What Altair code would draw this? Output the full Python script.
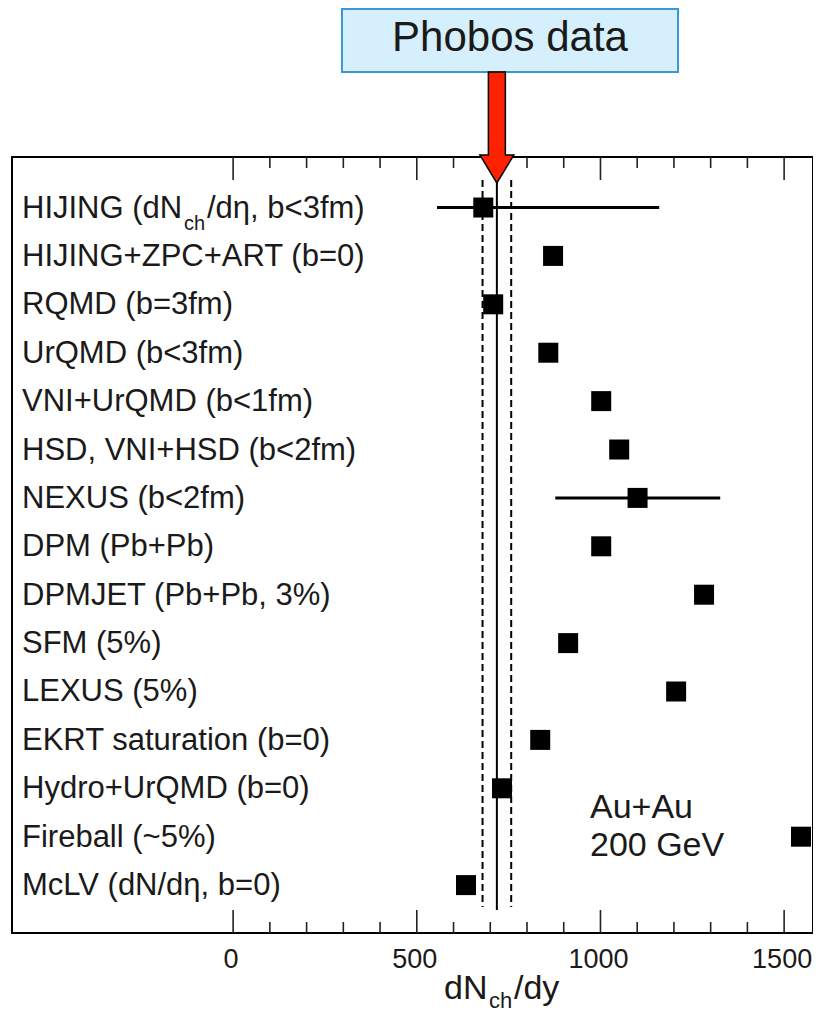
import altair as alt
import pandas as pd

# ---------------- data ----------------
models = [
    "HIJING (dNch/dη, b<3fm)",
    "HIJING+ZPC+ART (b=0)",
    "RQMD (b=3fm)",
    "UrQMD (b<3fm)",
    "VNI+UrQMD (b<1fm)",
    "HSD, VNI+HSD (b<2fm)",
    "NEXUS (b<2fm)",
    "DPM (Pb+Pb)",
    "DPMJET (Pb+Pb, 3%)",
    "SFM (5%)",
    "LEXUS (5%)",
    "EKRT saturation (b=0)",
    "Hydro+UrQMD (b=0)",
    "Fireball (~5%)",
    "McLV (dN/dη, b=0)",
]
values = [681, 871, 708, 858, 1002, 1051, 1101, 1002, 1282, 912, 1206, 836, 732, 1546, 634]
rows = list(range(len(models)))

err_rows = [0, 6]
err_lo = [555, 877]
err_hi = [1160, 1326]

phobos_value = [718]
phobos_band = [679, 757]

hijing_parts = ["HIJING (dN", "ch", "/dη, b<3fm)"]

tick_major = [0, 500, 1000, 1500]
tick_minor = [100, 200, 300, 400, 600, 700, 800, 900, 1100, 1200, 1300, 1400]

x_title_parts = ["dN", "ch", "/dy"]
energy_lines = ["Au+Au", "200 GeV"]
banner = ["Phobos data"]

# ---------------- frames ----------------
df = pd.DataFrame({"model": models, "value": values, "row": rows})
err_df = pd.DataFrame({"row": err_rows, "lo": err_lo, "hi": err_hi})
ph_df = pd.DataFrame({"value": phobos_value})
band_df = pd.DataFrame({"value": phobos_band})
lab_df = df[df.row > 0]
maj_df = pd.DataFrame({"v": tick_major})
min_df = pd.DataFrame({"v": tick_minor})
one = pd.DataFrame({"row": [0]})

W, H = 801, 776
FONT = "Liberation Sans"
TXT = "#1a1a1a"

xs = alt.Scale(domain=[-602, 1578.6], nice=False, zero=False)
ys = alt.Scale(domain=[-1.044, 14.99], reverse=True, nice=False, zero=False)

X = lambda f: alt.X(f, type="quantitative", scale=xs, axis=None)
Y = lambda f: alt.Y(f, type="quantitative", scale=ys, axis=None)


def txt(s, x, y, size, dy=0, align="left"):
    return alt.Chart(one).mark_text(
        align=align, baseline="alphabetic", font=FONT, fontSize=size,
        color=TXT, dy=dy, text=s).encode(x=alt.value(x), y=y)


# phobos lines
solid = alt.Chart(ph_df).mark_rule(color="black", strokeWidth=2).encode(
    x=X("value"), y=alt.value(23), y2=alt.value(753))
dashed = alt.Chart(band_df).mark_rule(color="black", strokeWidth=2, strokeDash=[7, 4]).encode(
    x=X("value"), y=alt.value(23), y2=alt.value(750))

# error bars
ebars = alt.Chart(err_df).mark_rule(color="black", strokeWidth=3).encode(
    x=X("lo"), x2="hi", y=Y("row"))

# squares
pts = alt.Chart(df).mark_square(size=400, color="black", opacity=1, filled=True).encode(
    x=X("value"), y=Y("row"))

# labels
labels = alt.Chart(lab_df).mark_text(
    align="left", baseline="alphabetic", font=FONT, fontSize=31, color=TXT, dy=10
).encode(x=alt.value(10), y=Y("row"), text="model:N")

h1 = txt(hijing_parts[0], 10, Y("row"), 31, dy=10)
h2 = txt(hijing_parts[1], 172, Y("row"), 20, dy=22)
h3 = txt(hijing_parts[2], 195, Y("row"), 31, dy=10)

# ticks (inward, bottom and top)
tmb = alt.Chart(maj_df).mark_rule(color="#222", strokeWidth=1.6).encode(
    x=X("v"), y=alt.value(H), y2=alt.value(H - 23))
tnb = alt.Chart(min_df).mark_rule(color="#222", strokeWidth=1.6).encode(
    x=X("v"), y=alt.value(H), y2=alt.value(H - 11))
tmt = alt.Chart(maj_df).mark_rule(color="#222", strokeWidth=1.6).encode(
    x=X("v"), y=alt.value(0), y2=alt.value(23))
tnt = alt.Chart(min_df).mark_rule(color="#222", strokeWidth=1.6).encode(
    x=X("v"), y=alt.value(0), y2=alt.value(11))

ticklab = alt.Chart(maj_df).mark_text(align="center", baseline="alphabetic", font=FONT,
                                      fontSize=27, color=TXT, dx=-2).encode(
    x=X("v"), y=alt.value(H + 35), text="v:Q")

# x title with subscript
xt1 = txt(x_title_parts[0], 432, alt.value(H + 66), 34)
xt2 = txt(x_title_parts[1], 477, alt.value(H + 75), 22)
xt3 = txt(x_title_parts[2], 502, alt.value(H + 66), 34)

# Au+Au annotation
en1 = txt(energy_lines[0], 578, alt.value(661), 34)
en2 = txt(energy_lines[1], 578, alt.value(699), 34)

# banner box and arrow
box = alt.Chart(one).mark_rect(fill="#d5effc", stroke="#3b97d6", strokeWidth=2).encode(
    x=alt.value(330), x2=alt.value(666), y=alt.value(-148), y2=alt.value(-85))
btxt = txt(banner[0], 498, alt.value(-106), 42, align="center")

arrow_path = "M-0.153,-1 L0.153,-1 L0.153,0.495 L0.306,0.495 L0,1 L-0.306,0.495 L-0.153,0.495 Z"
arrow = alt.Chart(ph_df).mark_point(
    shape=arrow_path, size=111 * 111, filled=True, fill="#ff2200", stroke="black",
    strokeWidth=1.5, opacity=1).encode(x=X("value"), y=alt.value(-29.5))

chart = alt.layer(
    solid, dashed, ebars, pts, labels, h1, h2, h3,
    tmb, tnb, tmt, tnt, ticklab, xt1, xt2, xt3, en1, en2, box, btxt, arrow
).properties(
    width=W, height=H,
    autosize=alt.AutoSizeParams(type="none"),
    padding={"left": 4, "top": 149, "right": 0, "bottom": 81},
    background="white",
).configure_view(stroke="black", strokeWidth=2)

chart.save("out.html", embed_options={"renderer": "svg", "actions": False})
